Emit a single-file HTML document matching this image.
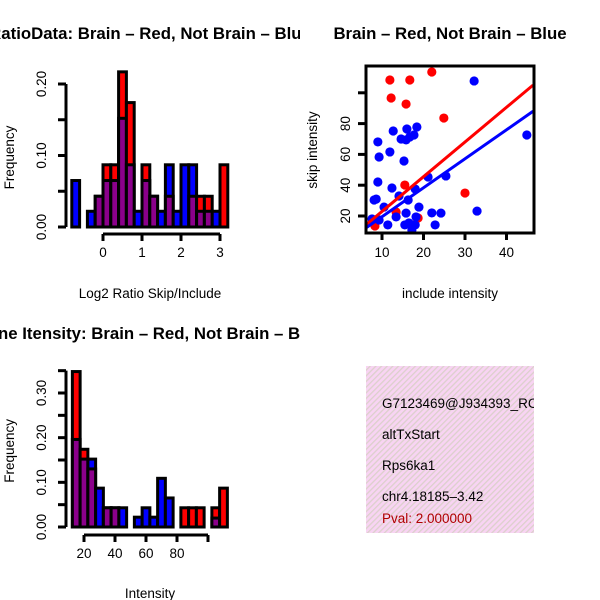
<!DOCTYPE html>
<html><head><meta charset="utf-8"><style>
body{margin:0;background:#fff}
svg{display:block;font-family:"Liberation Sans",sans-serif}
</style></head><body>
<svg id="s" width="600" height="600" xmlns="http://www.w3.org/2000/svg">
<defs>
<clipPath id="cl"><rect x="0" y="0" width="300" height="600"/></clipPath>
<pattern id="hatch" width="4" height="4" patternUnits="userSpaceOnUse" patternTransform="rotate(45)">
<rect width="4" height="4" fill="#f8d4f3"/><rect width="1.3" height="4" fill="#dcd0cc"/></pattern>
</defs>
<g id="p1"></g>
<g id="p2"></g>
<g id="p3"></g>
<g>
<rect x="366" y="366" width="168" height="167" fill="url(#hatch)"/>
<g font-size="13.5">
<text x="382" y="408">G7123469@J934393_RC</text>
<text x="382" y="439">altTxStart</text>
<text x="382" y="470">Rps6ka1</text>
<text x="382" y="501">chr4.18185–3.42</text>
<text x="382" y="523" fill="#b00000">Pval: 2.000000</text>
</g>
<rect x="534" y="360" width="66" height="180" fill="#fff"/>
</g>
</svg>
<script>
const NS="http://www.w3.org/2000/svg";
// Ratio histogram data (bins of 0.2 starting at -0.8)
const ratioBinStart=-0.8, ratioBinWidth=0.2;
const ratioRed=[0,0,0,0.043,0.087,0.087,0.217,0.174,0,0.087,0.043,0,0.043,0,0,0.043,0.043,0.043,0,0.087];
const ratioBlue=[0.065,0,0.022,0.043,0.065,0.065,0.152,0.087,0.022,0.065,0.043,0.022,0.087,0.022,0.087,0.087,0.022,0.022,0.022,0];
const ratioXTicks=[0,1,2,3];
const ratioYTicks=[0,0.05,0.10,0.15,0.20];
const ratioYLabels=["0.00","0.10","0.20"];
// Intensity histogram data (bins of 5 starting at 12.5)
const intBinStart=12.5, intBinWidth=5;
const intRed=[0.348,0.174,0.13,0,0.043,0.043,0,0,0,0,0,0,0,0,0.043,0.043,0.043,0,0.043,0.087];
const intBlue=[0.196,0.152,0.152,0.087,0.043,0.043,0.043,0,0.022,0.043,0.022,0.109,0.065,0,0,0,0,0,0.02,0];
const intXTicks=[20,40,60,80,100];
const intXLabels=["20","40","60","80",""];
const intYTicks=[0,0.05,0.10,0.15,0.20,0.25,0.30,0.35];
const intYLabels=["0.00","0.10","0.20","0.30"];
// Scatter data
const redX=[11.9,16.7,22.0,12.2,15.8,24.9,15.5,30.0,13.4,18.7,17.2,8.3];
const redY=[108.3,108.3,113.5,96.6,92.7,83.6,40.1,34.9,22.6,18.7,14.2,13.5];
const blueX=[32.2,44.9,9.0,9.3,11.9,12.7,16.0,18.4,14.6,16.7,15.8,17.7,15.3,9.0,12.4,25.4,21.1,32.9,22.0,18.0,15.5,8.6,10.5,14.1,16.3,18.0,24.2,22.8,16.5,15.8,18.2,11.4,9.3,18.9,7.6,13.4,8.1,17.2];
const blueY=[107.7,72.6,68.1,58.3,61.6,75.2,76.5,77.8,70,71.3,69.4,72.6,55.7,42.1,38.2,46.0,45.3,23.2,22,14.2,14.2,31.0,25.8,33.0,30.4,37.5,21.9,14.2,15.5,21.9,19.4,14.2,17.4,25.8,18.1,19.4,30.4,10.9];
const redFit=[[6.1,14.2],[46.4,105]];
const blueFit=[[6.1,12.2],[46.4,88]];
const scXTicks=[10,20,30,40];
const scYTicks=[20,40,60,80,100];
const scYLabels=["20","40","60","80",""];

function el(parent,tag,attrs){const e=document.createElementNS(NS,tag);for(const k in attrs)e.setAttribute(k,attrs[k]);parent.appendChild(e);return e;}
function txt(parent,x,y,s,attrs){const t=el(parent,"text",Object.assign({x:x,y:y},attrs||{}));t.textContent=s;return t;}
const FS=13.5, TFS=16.8;

function hist(g,start,w,red,blue,xs,ys,ysLab,ysLabStep,xTicks,xLabels,xAxisY,y0,yScale,title,xlab,titleY,xlabY){
  const sx=v=>xs(v);
  const sy=v=>y0-v*yScale;
  for(let i=0;i<red.length;i++){
    const x1=sx(start+i*w),x2=sx(start+(i+1)*w);
    const r=red[i],b=blue[i];
    if(r===0&&b===0)continue;
    const hi=Math.max(r,b),lo=Math.min(r,b);
    const col=r>=b?"#ff0000":"#0000ff";
    const big=el(g,"rect",{x:x1,y:sy(hi),width:x2-x1,height:sy(0)-sy(hi),fill:col,stroke:"#000","stroke-width":3});
    
    
    if(lo>0){
      const p=el(g,"rect",{x:x1,y:sy(lo),width:x2-x1,height:sy(0)-sy(lo),fill:"#8b008b",stroke:"#000","stroke-width":3});
      
      
    }
  }
  const ax=66;
  el(g,"line",{x1:ax,x2:ax,y1:sy(ys[0]),y2:sy(ys[ys.length-1]),stroke:"#000","stroke-width":3});
  ys.forEach((v,i)=>{
    el(g,"line",{x1:ax-8,x2:ax,y1:sy(v),y2:sy(v),stroke:"#000","stroke-width":3});
    if(i%2===0){const l=ysLab[i/2];const t=txt(g,46,sy(v),l,{"font-size":FS,"text-anchor":"middle",transform:`rotate(-90 46 ${sy(v)})`});
      }
  });
  el(g,"line",{x1:sx(xTicks[0]),x2:sx(xTicks[xTicks.length-1]),y1:xAxisY,y2:xAxisY,stroke:"#000","stroke-width":3});
  xTicks.forEach((v,i)=>{
    el(g,"line",{x1:sx(v),x2:sx(v),y1:xAxisY,y2:xAxisY+7,stroke:"#000","stroke-width":3});
    const t=txt(g,sx(v),xAxisY+23,xLabels[i],{"font-size":FS,"text-anchor":"middle"});
    
  });
  const yc=(sy(0)+sy(ys[ys.length-1]))/2+2;
  const yl=txt(g,14,yc,"Frequency",{"font-size":FS,"text-anchor":"middle",transform:`rotate(-90 14 ${yc})`});
  
  const xl=txt(g,150,xlabY,xlab,{"font-size":FS,"text-anchor":"middle"});
  
  const tt=txt(g,150,titleY,title,{"font-size":TFS,"font-weight":"bold","text-anchor":"middle","clip-path":"url(#cl)"});
  
}

const p1=document.getElementById("p1");
hist(p1,ratioBinStart,ratioBinWidth,ratioRed,ratioBlue,v=>103+v*39,ratioYTicks,ratioYLabels,2,ratioXTicks,["0","1","2","3"],234,227,143/0.2,"RatioData: Brain – Red, Not Brain – Blue","Log2 Ratio Skip/Include",39,298);
const p3=document.getElementById("p3");
hist(p3,intBinStart,intBinWidth,intRed,intBlue,v=>84+(v-20)*1.55,intYTicks,intYLabels,2,intXTicks,intXLabels,535,527,134/0.3,"Gene Itensity: Brain – Red, Not Brain – Blue","Intensity",339,598);

const p2=document.getElementById("p2");
const scx=v=>382+(v-10)*4.15, scy=v=>216-(v-20)*1.54;
const cp=el(document.querySelector("defs"),"clipPath",{id:"scClip"});
el(cp,"rect",{x:366,y:66,width:168,height:167});
const cg=el(p2,"g",{"clip-path":"url(#scClip)"});
for(let i=0;i<redX.length;i++){
  const c=el(cg,"circle",{cx:scx(redX[i]),cy:scy(redY[i]),r:4.6,fill:"#ff0000"});
  
  
}
for(let i=0;i<blueX.length;i++){
  const c=el(cg,"circle",{cx:scx(blueX[i]),cy:scy(blueY[i]),r:4.6,fill:"#0000ff"});
  
  
}
const rl=el(cg,"line",{x1:scx(redFit[0][0]),y1:scy(redFit[0][1]),x2:scx(redFit[1][0]),y2:scy(redFit[1][1]),stroke:"#ff0000","stroke-width":3});

const bl=el(cg,"line",{x1:scx(blueFit[0][0]),y1:scy(blueFit[0][1]),x2:scx(blueFit[1][0]),y2:scy(blueFit[1][1]),stroke:"#0000ff","stroke-width":3});

const box=el(p2,"rect",{x:366,y:66,width:168,height:167,fill:"none",stroke:"#000","stroke-width":3});

scXTicks.forEach(v=>{
  el(p2,"line",{x1:scx(v),x2:scx(v),y1:233,y2:240,stroke:"#000","stroke-width":3});
  const t=txt(p2,scx(v),257,String(v),{"font-size":FS,"text-anchor":"middle"});
  
});
scYTicks.forEach((v,i)=>{
  el(p2,"line",{x1:358,x2:366,y1:scy(v),y2:scy(v),stroke:"#000","stroke-width":3});
  const t=txt(p2,350,scy(v),scYLabels[i],{"font-size":FS,"text-anchor":"middle",transform:`rotate(-90 350 ${scy(v)})`});
  
});
const sxl=txt(p2,450,298,"include intensity",{"font-size":FS,"text-anchor":"middle"});

const syl=txt(p2,317,150,"skip intensity",{"font-size":FS,"text-anchor":"middle",transform:"rotate(-90 317 150)"});

const stt=txt(p2,450,39,"Brain – Red, Not Brain – Blue",{"font-size":TFS,"font-weight":"bold","text-anchor":"middle"});

</script>
</body></html>
